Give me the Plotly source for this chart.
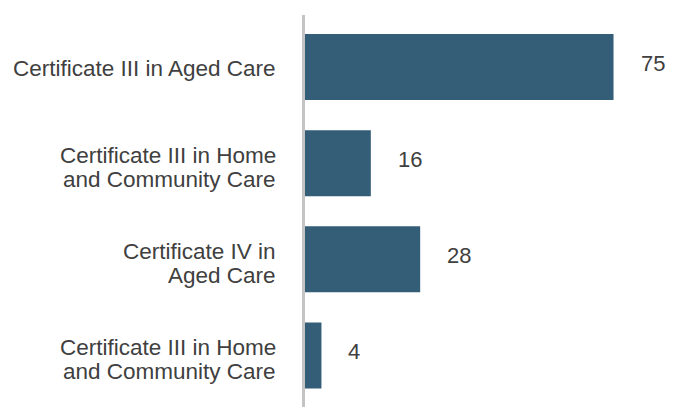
import plotly.graph_objects as go

# ── data ─────────────────────────────────────────────────────────────────────
categories = [
    "Certificate III in Aged Care",
    "Certificate III in Home<br>and Community Care",
    "Certificate IV in<br>Aged Care",
    "Certificate III in Home<br>and Community Care",
]
values = [75, 16, 28, 4]

BAR_COLOR = "#345d78"
TEXT_COLOR = "#404040"
AXIS_COLOR = "#c4c4c4"
FONT = "Arial"
LINE_GAP = 24     # px between wrapped category lines (tighter than plotly's 1.3em)

positions = list(range(len(categories)))

fig = go.Figure()

fig.add_trace(go.Bar(
    x=values,
    y=positions,
    orientation="h",
    marker=dict(color=BAR_COLOR, line=dict(width=0)),
    width=0.686,
    hoverinfo="skip",
))

# value labels to the right of each bar
for pos, val in zip(positions, values):
    fig.add_annotation(
        x=val, y=pos, text=str(val),
        xanchor="left", yanchor="middle",
        xshift=25, yshift=4, showarrow=False,
        font=dict(size=22, color=TEXT_COLOR, family=FONT),
    )

# category labels, one annotation per line so line spacing can be tightened
for pos, label in zip(positions, categories):
    lines = label.split("<br>")
    n = len(lines)
    for i, line in enumerate(lines):
        offset = (i - (n - 1) / 2) * LINE_GAP + (4.5 if n > 1 else 1)
        fig.add_annotation(
            x=0, xref="paper", y=pos, yref="y", text=line,
            xanchor="right", yanchor="middle",
            xshift=-27, yshift=-offset, showarrow=False,
            font=dict(size=22.5, color=TEXT_COLOR, family=FONT),
        )

# page body has an 8px margin, so the figure is sized/offset to compensate
fig.update_layout(
    width=666, height=399,
    margin=dict(l=297, r=0, t=7, b=0),
    paper_bgcolor="white",
    plot_bgcolor="white",
    showlegend=False,
    font=dict(family=FONT, size=22, color=TEXT_COLOR),
)

fig.update_xaxes(
    range=[0, 89.7],
    showgrid=False, zeroline=False, showline=False,
    showticklabels=False, ticks="",
)
fig.update_yaxes(
    range=[3.536, -0.541],
    tickvals=positions,
    showgrid=False, zeroline=False,
    showline=True, linecolor=AXIS_COLOR, linewidth=2.5,
    ticks="", showticklabels=False,
)

fig.write_html("out.html")
